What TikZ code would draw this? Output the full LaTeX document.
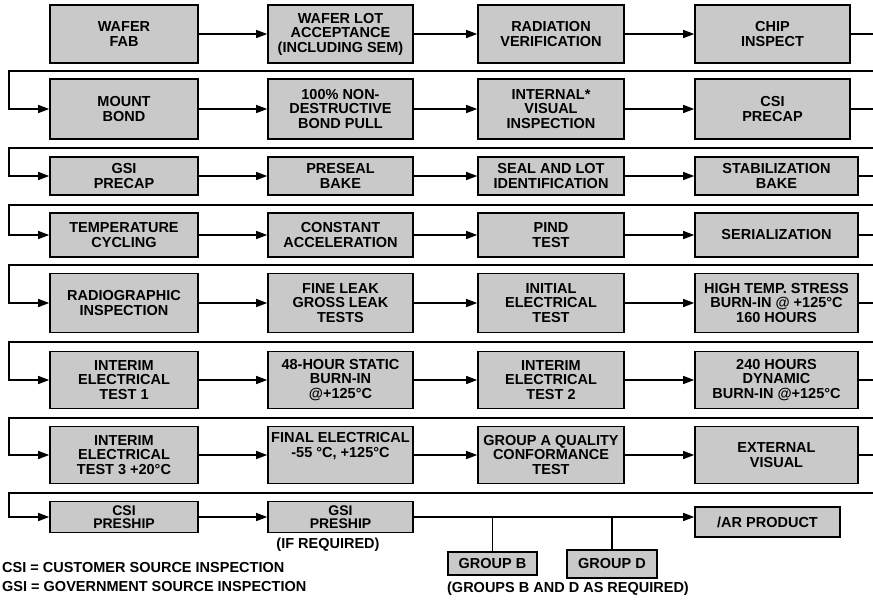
\documentclass[tikz,border=0pt]{standalone}
\usepackage{fontspec}
\setmainfont{Liberation Sans}
\usetikzlibrary{positioning,arrows.meta}

\begin{document}
\begin{tikzpicture}[x=1pt,y=-1pt,
    stagebox/.style={draw,line width=1.6pt,fill=black!21,align=center,inner sep=1pt,
      font=\fontsize{14.5}{14.5}\selectfont\bfseries},
    note/.style={inner sep=0pt,font=\fontsize{14.5}{15}\selectfont\bfseries},
    arr/.style={-{Triangle[length=11pt,width=8pt]},line width=1.3pt},
    wire/.style={line width=1.3pt},
    c1/.style={minimum width=148pt},
    c2/.style={minimum width=145pt},
    c3/.style={minimum width=146pt},
    c4/.style={minimum width=155pt},
    c4w/.style={minimum width=163pt},
    r1/.style={minimum height=58pt},
    r2/.style={minimum height=60pt},
    r3/.style={minimum height=38pt},
    r4/.style={minimum height=44pt},
    r5/.style={minimum height=59pt},
    r6/.style={minimum height=57pt},
    r7/.style={minimum height=57pt},
    r8/.style={minimum height=31pt,inner sep=0pt,font=\fontsize{14}{13}\selectfont\bfseries}]
  \path[use as bounding box] (0,0) rectangle (873,600);

  % row 1
  \node[stagebox,c1,r1] (s11) at (124,34) {WAFER\\FAB};
  \node[stagebox,c2,r1] (s12) at (340.5,34) {WAFER LOT\\ACCEPTANCE\\(INCLUDING SEM)};
  \node[stagebox,c3,r1] (s13) at (551,34) {RADIATION\\VERIFICATION};
  \node[stagebox,c4,r1] (s14) at (772.5,34) {CHIP\\INSPECT};
  % row 2
  \node[stagebox,c1,r2] (s21) at (124,109) {MOUNT\\BOND};
  \node[stagebox,c2,r2] (s22) at (340.5,109) {100\% NON-\\DESTRUCTIVE\\BOND PULL};
  \node[stagebox,c3,r2] (s23) at (551,109) {INTERNAL*\\VISUAL\\INSPECTION};
  \node[stagebox,c4,r2] (s24) at (772.5,109) {CSI\\PRECAP};
  % row 3
  \node[stagebox,c1,r3] (s31) at (124,176) {GSI\\PRECAP};
  \node[stagebox,c2,r3] (s32) at (340.5,176) {PRESEAL\\BAKE};
  \node[stagebox,c3,r3] (s33) at (551,176) {SEAL AND LOT\\IDENTIFICATION};
  \node[stagebox,c4w,r3] (s34) at (776.5,176) {STABILIZATION\\BAKE};
  % row 4
  \node[stagebox,c1,r4] (s41) at (124,235) {TEMPERATURE\\CYCLING};
  \node[stagebox,c2,r4] (s42) at (340.5,235) {CONSTANT\\ACCELERATION};
  \node[stagebox,c3,r4] (s43) at (551,235) {PIND\\TEST};
  \node[stagebox,c4w,r4] (s44) at (776.5,235) {SERIALIZATION};
  % row 5
  \node[stagebox,c1,r5] (s51) at (124,303) {RADIOGRAPHIC\\INSPECTION};
  \node[stagebox,c2,r5] (s52) at (340.5,303) {FINE LEAK\\GROSS LEAK\\TESTS};
  \node[stagebox,c3,r5] (s53) at (551,303) {INITIAL\\ELECTRICAL\\TEST};
  \node[stagebox,c4w,r5] (s54) at (776.5,303) {HIGH TEMP. STRESS\\BURN-IN @ +125°C\\160 HOURS};
  % row 6
  \node[stagebox,c1,r6] (s61) at (124,380) {INTERIM\\ELECTRICAL\\TEST 1};
  \node[stagebox,c2,r6] (s62) at (340.5,380) {48-HOUR STATIC\\BURN-IN\\@+125°C};
  \node[stagebox,c3,r6] (s63) at (551,380) {INTERIM\\ELECTRICAL\\TEST 2};
  \node[stagebox,c4w,r6] (s64) at (776.5,380) {240 HOURS\\DYNAMIC\\BURN-IN @+125°C};
  % row 7
  \node[stagebox,c1,r7] (s71) at (124,455) {INTERIM\\ELECTRICAL\\TEST 3 +20°C};
  \node[stagebox,c2,r7] (s72) at (340.5,455) {FINAL ELECTRICAL\\-55 °C, +125°C\\[6pt]};
  \node[stagebox,c3,r7] (s73) at (551,455) {GROUP A QUALITY\\CONFORMANCE\\TEST};
  \node[stagebox,c4w,r7] (s74) at (776.5,455) {EXTERNAL\\VISUAL};
  % row 8 and the lot groups
  \node[stagebox,c1,r8] (s81) at (124,517) {CSI\\PRESHIP};
  \node[stagebox,c2,r8] (s82) at (340.5,517) {GSI\\PRESHIP};
  \node[stagebox,minimum width=145pt,minimum height=30pt] (arprod) at (767.5,522) {/AR PRODUCT};
  \node[stagebox,minimum width=89pt,minimum height=23pt] (grpb) at (492.5,563.5) {GROUP B};
  \node[stagebox,minimum width=90pt,minimum height=28pt] (grpd) at (612,564) {GROUP D};

  % flow along each row
  \foreach \r in {1,...,7} {
    \draw[arr] (s\r1) -- (s\r2);
    \draw[arr] (s\r2) -- (s\r3);
    \draw[arr] (s\r3) -- (s\r4);
  }
  % wrap back to the next row
  \foreach \r/\n/\ry in {1/2/71,2/3/148,3/4/205,4/5/265,5/6/342,6/7/418,7/8/493} {
    \draw[arr] (s\r4.east) -- ++(30,0) |- (9,\ry) |- (s\n1.west);
  }
  \draw[arr] (s81) -- (s82);
  \draw[arr] (s82.east) -- (s82.east -| arprod.west);
  \draw[wire] (grpb.north) -- (grpb.north |- s82.east);
  \draw[wire] (grpd.north) -- (grpd.north |- s82.east);

  % notes
  \node[note] (ifreq) at (328,545) {(IF REQUIRED)};
  \node[note] (grpnote) at (568,589) {(GROUPS B AND D AS REQUIRED)};
  \node[note,anchor=west] (csikey) at (2,568) {CSI = CUSTOMER SOURCE INSPECTION};
  \node[note,anchor=west] (gsikey) at (2,587) {GSI = GOVERNMENT SOURCE INSPECTION};
\end{tikzpicture}
\end{document}
